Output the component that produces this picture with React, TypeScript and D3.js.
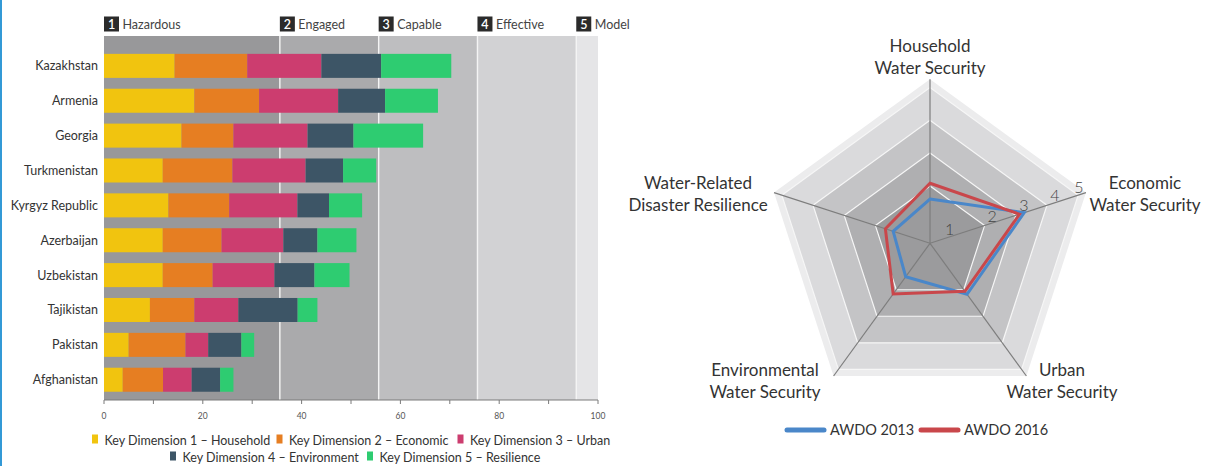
import React from "react";
import * as d3 from "d3";

// ---------- Left chart data ----------
const countries = [
  "Kazakhstan",
  "Armenia",
  "Georgia",
  "Turkmenistan",
  "Kyrgyz Republic",
  "Azerbaijan",
  "Uzbekistan",
  "Tajikistan",
  "Pakistan",
  "Afghanistan",
];
const kd1Household = [14.3, 18.3, 15.7, 11.9, 13.05, 11.9, 11.9, 9.3, 5.0, 3.8];
const kd2Economic = [14.7, 13.1, 10.5, 14.1, 12.3, 11.9, 10.1, 9.0, 11.5, 8.15];
const kd3Urban = [15.0, 16.0, 15.0, 14.8, 13.8, 12.5, 12.5, 8.9, 4.6, 5.8];
const kd4Environment = [12.1, 9.5, 9.3, 7.6, 6.4, 6.9, 8.1, 12.0, 6.7, 5.75];
const kd5Resilience = [14.2, 10.7, 14.1, 6.7, 6.7, 7.9, 7.1, 4.0, 2.6, 2.7];
const dimensionNames = [
  "Key Dimension 1 – Household",
  "Key Dimension 2 – Economic",
  "Key Dimension 3 – Urban",
  "Key Dimension 4 – Environment",
  "Key Dimension 5 – Resilience",
];
const stageNames = ["Hazardous", "Engaged", "Capable", "Effective", "Model"];
const stageStarts = [0, 35.6, 55.6, 75.6, 95.6];
const xMinorTicks = [0, 10, 20, 30, 40, 50, 60, 70, 80, 90, 100];
const xTickLabels = [0, 20, 40, 60, 80, 100];

// ---------- Radar data ----------
const radarAxes = [
  ["Household", "Water Security"],
  ["Economic", "Water Security"],
  ["Urban", "Water Security"],
  ["Environmental", "Water Security"],
  ["Water-Related", "Disaster Resilience"],
];
const awdo2013 = [1.6, 3.27, 2.17, 1.51, 1.43];
const awdo2016 = [2.08, 3.12, 2.06, 2.16, 1.68];
const radarLevels = [1, 2, 3, 4, 5];
const seriesNames = ["AWDO 2013", "AWDO 2016"];

// ---------- Styles ----------
const FONT = "Lato, 'Open Sans', sans-serif";
const dimColors = ["#f1c40f", "#e67e22", "#cc3d6f", "#3d5566", "#2ecc71"];
const zoneColors = ["#98989a", "#aaaaac", "#bebec0", "#d2d2d4", "#e5e5e7"];
const radarBandColors = ["#ececed", "#dadadc", "#c4c4c6", "#afafb1", "#9b9b9d"];
const seriesColors = ["#4a87c9", "#c9474b"];

export default function App() {
  // Left chart scales
  const x = d3.scaleLinear().domain([0, 100]).range([104, 598]);
  const y = d3.scaleBand<string>().domain(countries).range([43, 402.6]).padding(0.3115);
  const plotTop = 36;
  const plotBottom = 400;

  const rows = countries.map((c, i) => ({
    country: c,
    d0: kd1Household[i],
    d1: kd2Economic[i],
    d2: kd3Urban[i],
    d3: kd4Environment[i],
    d4: kd5Resilience[i],
  }));
  const stack = d3.stack<any>().keys(["d0", "d1", "d2", "d3", "d4"]);
  const series = stack(rows);

  // Radar scales
  const cx = 930;
  const cy = 243.3;
  const r = d3.scaleLinear().domain([0.25, 5.25]).range([0, 164]);
  const angle = (i: number) => (i * 2 * Math.PI) / radarAxes.length;
  const pt = (i: number, v: number): [number, number] => {
    const a = angle(i) - Math.PI / 2;
    return [cx + r(v) * Math.cos(a), cy + r(v) * Math.sin(a)];
  };
  const radial = d3
    .lineRadial<number>()
    .angle((_, i) => angle(i))
    .radius((d) => r(d))
    .curve(d3.curveLinearClosed);
  const ring = (v: number) => radial(radarAxes.map(() => v)) as string;
  const bandLevels = [5.25, ...radarLevels.slice(1).reverse()]; // 5.25,5,4,3,2

  const axisLabelPos = [
    { x: 930, y: 52 },
    { x: 1145, y: 189 },
    { x: 1062, y: 376 },
    { x: 765, y: 376 },
    { x: 698, y: 189 },
  ];
  const tickAlong = [23, 67.6, 101, 133.7, 158.7];
  const econA = angle(1) - Math.PI / 2;
  const ux = Math.cos(econA);
  const uy = Math.sin(econA);
  const nx = uy; // perpendicular pointing up-left
  const ny = -ux;

  const legendRow1 = [92, 276.5, 457.5];
  const legendRow2 = [170, 367];

  return (
    <div style={{ position: "fixed", left: 0, top: 0, width: 1205, height: 466, background: "#fff" }}>
      <svg width={1205} height={466} style={{ display: "block", fontFamily: FONT }}>
        <rect x={0} y={0} width={1205} height={466} fill="#ffffff" />
        <rect x={0} y={0} width={2} height={466} fill="#3399d6" />

        {/* ---------- Left chart ---------- */}
        {stageStarts.map((s, i) => {
          const x0 = x(s);
          const x1 = x(i < stageStarts.length - 1 ? stageStarts[i + 1] : 100);
          return (
            <rect key={"z" + i} x={x0} y={plotTop} width={x1 - x0} height={plotBottom - plotTop} fill={zoneColors[i]} />
          );
        })}
        {stageStarts.slice(1).map((s, i) => (
          <line key={"zl" + i} x1={x(s)} x2={x(s)} y1={plotTop} y2={plotBottom} stroke="#f4f4f4" strokeWidth={1.4} />
        ))}
        {stageNames.map((name, i) => (
          <g key={"h" + i} transform={`translate(${x(stageStarts[i])},16.5)`}>
            <rect x={0} y={0} width={15} height={15} fill="#2b2b2b" />
            <text x={7.5} y={12} textAnchor="middle" fill="#ffffff" fontSize={12.5} fontWeight={600}>
              {i + 1}
            </text>
            <text x={18.5} y={12} fill="#444" fontSize={12.5}>
              {name}
            </text>
          </g>
        ))}

        {series.map((s, si) =>
          s.map((d: any, j: number) => (
            <rect
              key={`b${si}-${j}`}
              x={x(d[0])}
              y={y(d.data.country)}
              width={x(d[1]) - x(d[0])}
              height={y.bandwidth()}
              fill={dimColors[si]}
            />
          ))
        )}

        {countries.map((c) => (
          <text
            key={"c" + c}
            x={98}
            y={(y(c) as number) + y.bandwidth() / 2 + 4.5}
            textAnchor="end"
            fill="#333"
            fontSize={12.5}
          >
            {c}
          </text>
        ))}

        <line x1={x(0)} x2={x(100)} y1={plotBottom} y2={plotBottom} stroke="#7a7a7a" strokeWidth={1} />
        {xMinorTicks.map((t) => (
          <line key={"t" + t} x1={x(t)} x2={x(t)} y1={plotBottom} y2={plotBottom + 4} stroke="#7a7a7a" strokeWidth={1} />
        ))}
        {xTickLabels.map((t) => (
          <text key={"tl" + t} x={x(t)} y={419} textAnchor="middle" fill="#555" fontSize={8.5}>
            {t}
          </text>
        ))}

        {/* Legend */}
        {dimensionNames.map((name, i) => {
          const lx = i < 3 ? legendRow1[i] : legendRow2[i - 3];
          const ly = i < 3 ? 440 : 457;
          return (
            <g key={"lg" + i}>
              <rect x={lx} y={ly - 5.5} width={6} height={9} fill={dimColors[i]} />
              <text x={lx + 12.5} y={ly + 4.5} fill="#333" fontSize={12.5}>
                {name}
              </text>
            </g>
          );
        })}

        {/* ---------- Radar chart ---------- */}
        <g transform={`translate(${cx},${cy})`}>
          {bandLevels.map((lv, i) => (
            <path key={"band" + lv} d={ring(lv)} fill={radarBandColors[i]} stroke="none" />
          ))}
          {radarLevels.slice(1).map((lv) => (
            <path key={"ring" + lv} d={ring(lv)} fill="none" stroke="#f6f6f6" strokeWidth={1.2} />
          ))}
        </g>
        {radarAxes.map((_, i) => {
          const [ex, ey] = pt(i, 5.25);
          return <line key={"ax" + i} x1={cx} y1={cy} x2={ex} y2={ey} stroke="#7d7d7d" strokeWidth={1.2} />;
        })}
        {radarLevels.map((lv, i) => (
          <text
            key={"rl" + lv}
            x={cx + tickAlong[i] * ux + 7 * nx}
            y={cy + tickAlong[i] * uy + 7 * ny}
            dy="0.36em"
            textAnchor="middle"
            fill="#444"
            fontSize={16}
            fontWeight={300}
          >
            {lv}
          </text>
        ))}
        <g transform={`translate(${cx},${cy})`}>
          {[awdo2013, awdo2016].map((vals, si) => (
            <path
              key={"s" + si}
              d={radial(vals) as string}
              fill="none"
              stroke={seriesColors[si]}
              strokeWidth={3}
              strokeLinejoin="miter"
            />
          ))}
        </g>
        {radarAxes.map((lines, i) => (
          <text key={"al" + i} x={axisLabelPos[i].x} y={axisLabelPos[i].y} textAnchor="middle" fill="#333" fontSize={17}>
            <tspan x={axisLabelPos[i].x}>{lines[0]}</tspan>
            <tspan x={axisLabelPos[i].x} dy={22}>
              {lines[1]}
            </tspan>
          </text>
        ))}

        {/* Radar legend */}
        {seriesNames.map((name, i) => {
          const lx = i === 0 ? 787 : 921;
          return (
            <g key={"sl" + i}>
              <line x1={lx} x2={lx + 37} y1={430} y2={430} stroke={seriesColors[i]} strokeWidth={5} strokeLinecap="round" />
              <text x={lx + 43} y={435} fill="#333" fontSize={14.5}>
                {name}
              </text>
            </g>
          );
        })}
      </svg>
    </div>
  );
}
